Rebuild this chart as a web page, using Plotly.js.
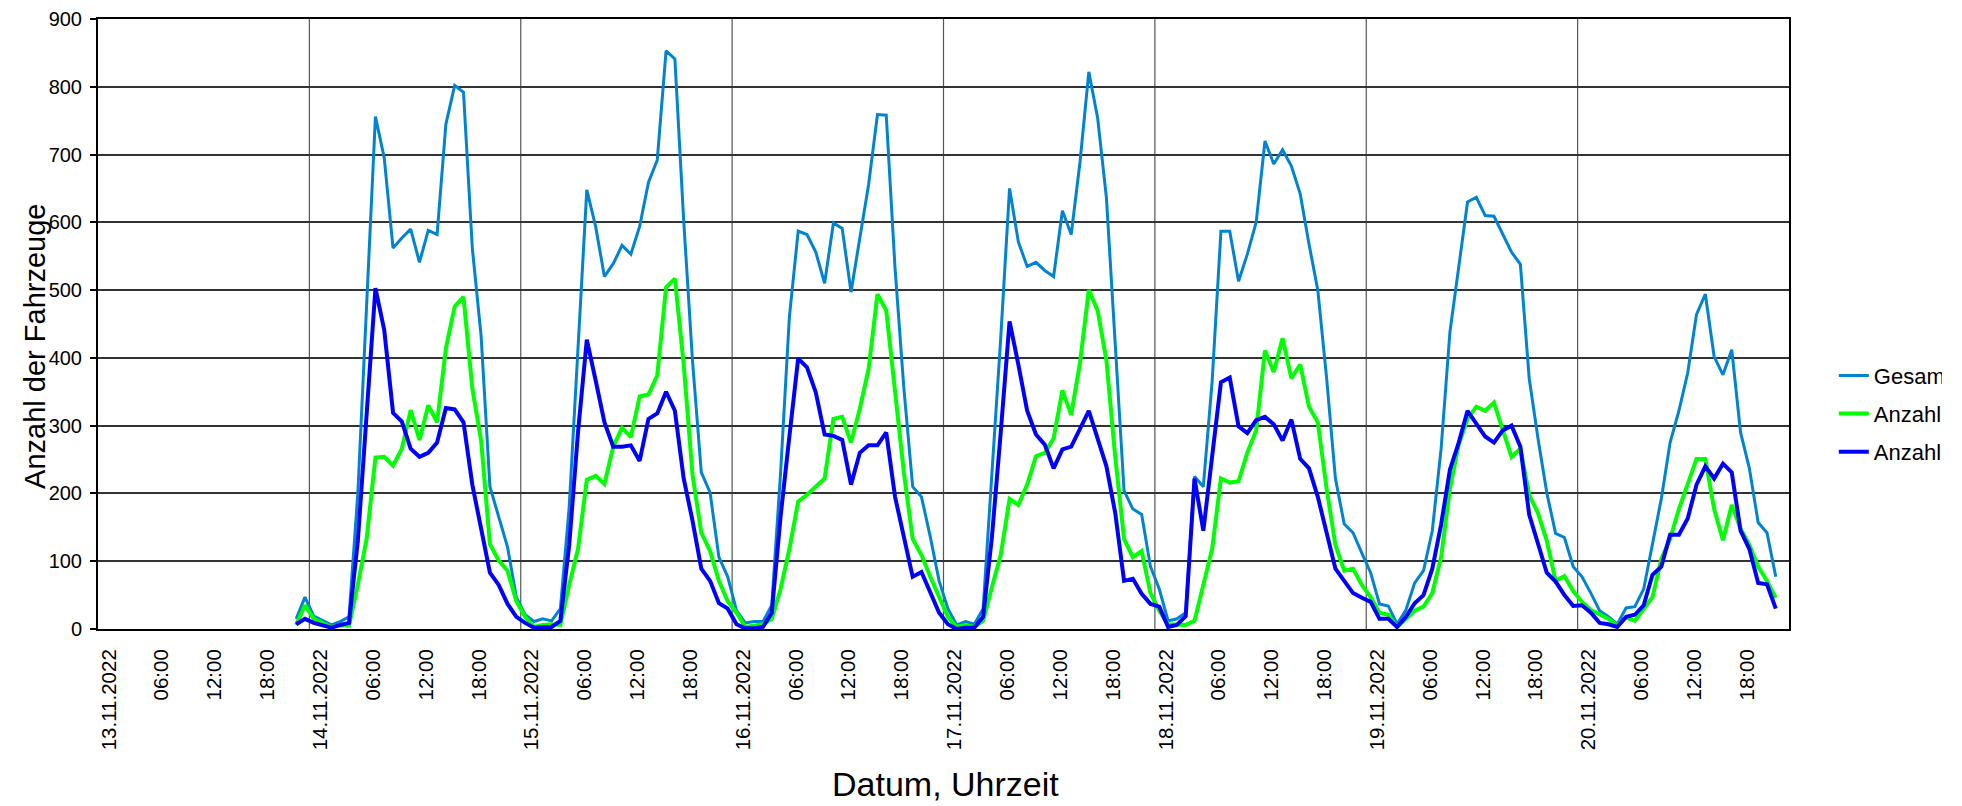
<!DOCTYPE html>
<html>
<head>
<meta charset="utf-8">
<script src="https://cdn.plot.ly/plotly-3.0.1.min.js"></script>
<style>
  html, body { margin: 0; padding: 0; background: #ffffff; }
  #chart { width: 1962px; height: 806px; }
</style>
</head>
<body>
<div id="chart"></div>
<script>
// Hourly values, first point 13.11.2022 22:30, last point 20.11.2022 22:30
const startTime = '2022-11-13 22:30';

const gesamt = [
  15, 47,
  19, 12, 6, 11, 18, 200, 470, 756, 695, 562, 577, 590, 541, 588, 582, 745, 802, 792, 562, 432, 210, 166, 121, 47,
  21, 11, 15, 12, 30, 180, 420, 648, 594, 520, 539, 566, 553, 594, 659, 692, 853, 841, 603, 396, 231, 201, 106, 77,
  27, 9, 11, 11, 35, 230, 460, 587, 582, 556, 510, 599, 591, 497, 577, 656, 759, 758, 532, 355, 210, 195, 136, 71,
  30, 6, 11, 7, 30, 230, 430, 650, 571, 535, 541, 529, 520, 617, 582, 689, 822, 754, 636, 420, 204, 177, 169, 92,
  59, 12, 15, 24, 225, 210, 365, 587, 587, 513, 553, 600, 720, 686, 707, 683, 642, 568, 500, 370, 222, 155, 142, 112,
  83, 37, 34, 7, 28, 68, 86, 145, 266, 438, 532, 630, 637, 610, 609, 582, 556, 538, 370, 281, 201, 141, 135, 92,
  77, 53, 27, 18, 7, 31, 33, 59, 124, 192, 275, 322, 378, 464, 494, 402, 375, 412, 290, 237, 157, 142, 77
];

const anzahlGruen = [
  6, 35,
  15, 9, 3, 5, 5, 65, 133, 253, 254, 241, 266, 323, 279, 330, 305, 414, 476, 490, 355, 278, 125, 101, 86, 41,
  18, 3, 6, 7, 6, 65, 118, 220, 226, 214, 269, 297, 283, 343, 346, 374, 504, 517, 391, 228, 142, 115, 71, 41,
  24, 3, 5, 7, 15, 59, 118, 188, 198, 210, 222, 310, 313, 275, 325, 384, 494, 470, 349, 231, 133, 109, 77, 47,
  18, 3, 6, 3, 12, 62, 109, 192, 183, 213, 255, 260, 281, 352, 316, 393, 500, 470, 396, 254, 133, 106, 115, 53,
  27, 7, 6, 6, 12, 65, 118, 222, 216, 218, 260, 293, 411, 379, 429, 370, 390, 328, 305, 207, 124, 86, 89, 65,
  47, 24, 21, 3, 15, 27, 33, 53, 106, 207, 272, 310, 328, 322, 334, 296, 254, 266, 198, 171, 130, 71, 78, 56,
  40, 28, 21, 15, 5, 17, 12, 30, 47, 103, 133, 177, 216, 251, 251, 177, 131, 183, 148, 124, 92, 71, 46
];

const anzahlBlau = [
  7, 15,
  9, 5, 2, 6, 9, 130, 320, 503, 441, 319, 306, 266, 254, 260, 275, 326, 324, 305, 213, 148, 83, 65, 37, 18,
  9, 2, 3, 3, 12, 124, 290, 427, 367, 305, 269, 269, 271, 248, 310, 318, 350, 322, 222, 160, 89, 71, 38, 30,
  7, 1, 1, 3, 24, 166, 284, 399, 386, 349, 287, 285, 279, 213, 260, 271, 271, 290, 195, 136, 77, 84, 53, 24,
  7, 0, 2, 2, 18, 136, 290, 454, 390, 322, 287, 272, 237, 265, 269, 296, 322, 281, 240, 171, 71, 74, 52, 37,
  33, 3, 6, 19, 222, 145, 251, 364, 371, 299, 289, 308, 313, 302, 278, 309, 251, 237, 195, 142, 89, 71, 53, 46,
  40, 15, 15, 3, 18, 38, 50, 89, 154, 235, 275, 322, 302, 284, 275, 293, 300, 269, 169, 124, 83, 70, 50, 34,
  35, 24, 9, 7, 3, 18, 21, 35, 80, 92, 139, 139, 163, 213, 240, 222, 244, 231, 145, 118, 68, 66, 30
];

const seriesNames = ['Gesamt', 'Anzahl', 'Anzahl'];
const seriesColors = ['#0084d1', '#00ff00', '#0000ff'];

const tickDays = ['13.11.2022', '14.11.2022', '15.11.2022', '16.11.2022', '17.11.2022', '18.11.2022', '19.11.2022', '20.11.2022'];
const tickHours = ['06:00', '12:00', '18:00'];
const dayDates = ['2022-11-13', '2022-11-14', '2022-11-15', '2022-11-16', '2022-11-17', '2022-11-18', '2022-11-19', '2022-11-20'];

// time axis for the hourly series
function pad(n) { return (n < 10 ? '0' : '') + n; }
function fmt(d) {
  return d.getUTCFullYear() + '-' + pad(d.getUTCMonth() + 1) + '-' + pad(d.getUTCDate()) +
    ' ' + pad(d.getUTCHours()) + ':' + pad(d.getUTCMinutes());
}
const t0 = Date.parse(startTime.replace(' ', 'T') + ':00Z');
const times = gesamt.map((_, i) => fmt(new Date(t0 + i * 3600000)));

// tick positions / labels
const tickvals = [], ticktext = [];
dayDates.forEach((d, i) => {
  tickvals.push(d + ' 00:00'); ticktext.push(tickDays[i]);
  tickHours.forEach(h => { tickvals.push(d + ' ' + h); ticktext.push(h); });
});

const widths = [3, 4, 4];
const dataSets = [gesamt, anzahlGruen, anzahlBlau];
const traces = dataSets.map((ys, i) => ({
  type: 'scatter', mode: 'lines',
  x: times, y: ys,
  name: seriesNames[i],
  legendgroup: 'g' + i,
  line: { color: seriesColors[i], width: widths[i] },
  hoverinfo: 'x+y'
}));

// vertical day separator lines
const shapes = dayDates.slice(1).map(d => ({
  type: 'line', xref: 'x', yref: 'paper',
  x0: d + ' 00:00', x1: d + ' 00:00', y0: 0, y1: 1,
  line: { color: '#555555', width: 1.2 },
  layer: 'below'
}));

const FONT = 'Liberation Sans, Arial, sans-serif';

const layout = {
  width: 1942, height: 806,
  margin: { l: 98, r: 153, t: 19, b: 177, autoexpand: false },
  paper_bgcolor: '#ffffff', plot_bgcolor: '#ffffff',
  font: { family: FONT, color: '#000000' },
  showlegend: true,
  xaxis: {
    type: 'date',
    range: ['2022-11-13 00:00', '2022-11-21 00:00'],
    tickmode: 'array', tickvals: tickvals, ticktext: ticktext,
    tickangle: -90,
    tickfont: { family: FONT, size: 20.5, color: '#000000' },
    ticks: '',
    ticklabelshift: 11,
    ticklabelstandoff: 10,
    showgrid: false, zeroline: false,
    showline: true, linecolor: '#000000', linewidth: 2, mirror: true
  },
  yaxis: {
    range: [0, 900], tick0: 0, dtick: 100,
    tickfont: { family: FONT, size: 20, color: '#000000' },
    ticks: 'outside', ticklen: 6, tickcolor: '#000000', tickwidth: 1.5,
    ticklabelstandoff: 4,
    showgrid: true, gridcolor: '#333333', gridwidth: 1.6,
    zeroline: false,
    showline: true, linecolor: '#000000', linewidth: 2, mirror: true
  },
  legend: {
    x: 1.0265, xanchor: 'left', y: 0.353, yanchor: 'middle',
    font: { family: FONT, size: 22, color: '#000000' },
    itemwidth: 30, traceorder: 'grouped', tracegroupgap: 6.5,
    bgcolor: 'rgba(0,0,0,0)'
  },
  shapes: shapes,
  annotations: [
    {
      text: 'Anzahl der Fahrzeuge', textangle: -90,
      xref: 'paper', yref: 'paper', x: -0.0373, y: 0.464,
      xanchor: 'center', yanchor: 'middle', showarrow: false,
      font: { family: FONT, size: 29, color: '#000000' }
    },
    {
      text: 'Datum, Uhrzeit',
      xref: 'paper', yref: 'paper', x: 0.501, y: -0.2548,
      xanchor: 'center', yanchor: 'middle', showarrow: false,
      font: { family: FONT, size: 34, color: '#000000' }
    }
  ]
};

Plotly.newPlot('chart', traces, layout, { displayModeBar: false, responsive: false });
</script>
</body>
</html>
